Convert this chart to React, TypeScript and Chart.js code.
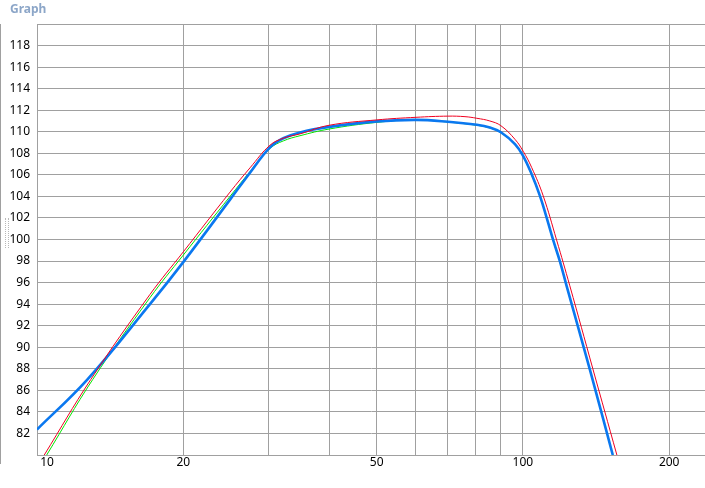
import React, { useEffect, useRef } from 'react';
import { Chart, registerables } from 'chart.js';

Chart.register(...registerables);

// Frequency (log x) and level values
const blueX = [10, 12.69, 17.08, 20.0, 24.96, 27.44, 30.16, 32.13, 34.77, 39.9, 50.07, 60.25, 70.1, 80.4, 85.5, 90.1, 96.3, 100.1, 104.2, 108.4, 111.9, 115.4, 119.2, 123.0, 137.4, 153.1];
const blueY = [82.37, 87.0, 94.0, 97.9, 103.7, 106.2, 108.55, 109.4, 109.94, 110.45, 110.96, 111.1, 110.93, 110.65, 110.4, 109.95, 108.86, 107.77, 106.07, 104.05, 102.04, 99.96, 97.95, 95.7, 87.9, 80];

const redX = [10.35, 12.9, 17.08, 20.0, 24.96, 27.44, 30.16, 32.13, 34.77, 39.9, 50.07, 60.25, 70.1, 76.0, 80.4, 85.5, 90.1, 96.3, 100.1, 104.2, 110.1, 117.3, 124.9, 139.3, 156.1];
const redY = [80, 87.0, 94.9, 98.85, 104.4, 106.65, 108.75, 109.4, 109.8, 110.6, 111.1, 111.34, 111.45, 111.4, 111.25, 111.0, 110.56, 109.3, 108.2, 106.7, 104.05, 99.96, 95.7, 88.0, 80];

const greenX = [10.47, 13.02, 17.08, 20.0, 24.96, 27.44, 30.16, 32.13, 34.77, 39.9, 50.07, 60.25, 70.1, 80.4, 85.5, 90.1, 96.3, 100.1, 104.2, 108.4, 111.9, 115.4, 119.2, 123.0, 137.4, 153.1];
const greenY = [80, 87.0, 94.6, 98.55, 104.0, 106.3, 108.45, 109.15, 109.63, 110.25, 110.87, 111.1, 110.9, 110.6, 110.35, 109.9, 108.8, 107.7, 106.0, 104.0, 102.0, 99.9, 97.9, 95.65, 87.85, 80];

const xGridValues = [10, 20, 30, 40, 50, 60, 70, 80, 90, 100, 200];
const xLabelValues = [10, 20, 50, 100, 200];
const yTickValues = [80, 82, 84, 86, 88, 90, 92, 94, 96, 98, 100, 102, 104, 106, 108, 110, 112, 114, 116, 118, 120];

const X_MIN = 10;
const X_MAX = 237;
const Y_MIN = 80;
const Y_MAX = 120;

const FONT = '"Noto Sans", "Open Sans", "DejaVu Sans", sans-serif';
const GRID = '#a0a0a0';

const toPts = (xs: number[], ys: number[]) => xs.map((x, i) => ({ x, y: ys[i] }));

const xLabelPlugin = {
  id: 'xLabels',
  afterDraw(chart: any) {
    const s = chart.scales.x;
    const ctx = chart.ctx;
    ctx.save();
    ctx.font = '12px ' + FONT;
    ctx.fillStyle = '#000';
    ctx.textAlign = 'center';
    ctx.textBaseline = 'middle';
    xLabelValues.forEach((v, i) => {
      let px = s.getPixelForValue(v);
      if (i === 0) px += 10;
      ctx.fillText(String(v), px, s.top + 8);
    });
    ctx.restore();
  },
};

const lineStyle = {
  pointRadius: 0,
  tension: 0.4,
  fill: false,
};

export default function App() {
  const ref = useRef<HTMLCanvasElement | null>(null);

  useEffect(() => {
    if (!ref.current) return;
    const chart = new Chart(ref.current, {
      type: 'line',
      data: {
        datasets: [
          { label: 'green', data: toPts(greenX, greenY), borderColor: '#00e600', borderWidth: 1, order: 3, ...lineStyle },
          { label: 'blue', data: toPts(blueX, blueY), borderColor: '#0a78f0', borderWidth: 2.6, order: 2, ...lineStyle },
          { label: 'red', data: toPts(redX, redY), borderColor: '#f00020', borderWidth: 1, order: 1, ...lineStyle },
        ],
      },
      options: {
        animation: false,
        responsive: false,
        devicePixelRatio: 1,
        layout: { padding: { top: 24, left: 0, right: 0, bottom: 0 } },
        plugins: {
          legend: { display: false },
          tooltip: { enabled: false },
          title: { display: false },
        },
        scales: {
          x: {
            type: 'logarithmic',
            min: X_MIN,
            max: X_MAX,
            afterBuildTicks: (s: any) => {
              s.ticks = xGridValues.map((v) => ({ value: v }));
            },
            afterFit: (s: any) => {
              s.height = 33;
            },
            ticks: { display: false },
            grid: { color: GRID, lineWidth: 1, drawTicks: false },
            border: { color: GRID, width: 1 },
          },
          y: {
            type: 'linear',
            min: Y_MIN,
            max: Y_MAX,
            afterBuildTicks: (s: any) => {
              s.ticks = yTickValues.map((v) => ({ value: v }));
            },
            afterFit: (s: any) => {
              s.width = 37;
            },
            ticks: {
              padding: 7,
              color: '#000',
              font: { family: FONT, size: 12 },
              callback: (v: any) => (v === Y_MIN || v === Y_MAX ? '' : String(v)),
            },
            grid: { color: GRID, lineWidth: 1, drawTicks: false },
            border: { color: GRID, width: 1 },
          },
        },
      },
      plugins: [xLabelPlugin],
    } as any);
    return () => chart.destroy();
  }, []);

  return (
    <div style={{ position: 'absolute', left: 0, top: 0, width: 705, height: 488, background: '#fff', overflow: 'hidden' }}>
      <canvas ref={ref} width={705} height={488} style={{ position: 'absolute', left: 0, top: 0 }} />
      <div
        style={{
          position: 'absolute',
          left: 10,
          top: 1,
          fontFamily: FONT,
          fontWeight: 'bold',
          fontSize: 12,
          lineHeight: '16px',
          color: '#8ca6c8',
        }}
      >
        Graph
      </div>
      <div
        style={{
          position: 'absolute',
          left: -2,
          top: 24,
          width: 2,
          height: 438,
          borderTop: '1px solid #a0a0a0',
          borderRight: '1px solid #a0a0a0',
          borderBottom: '1px solid #a0a0a0',
        }}
      />
      <div
        style={{
          position: 'absolute',
          left: 5,
          top: 218,
          width: 2,
          height: 30,
          borderLeft: '1px dotted #b8b8b8',
          borderRight: '1px dotted #b8b8b8',
        }}
      />
    </div>
  );
}
